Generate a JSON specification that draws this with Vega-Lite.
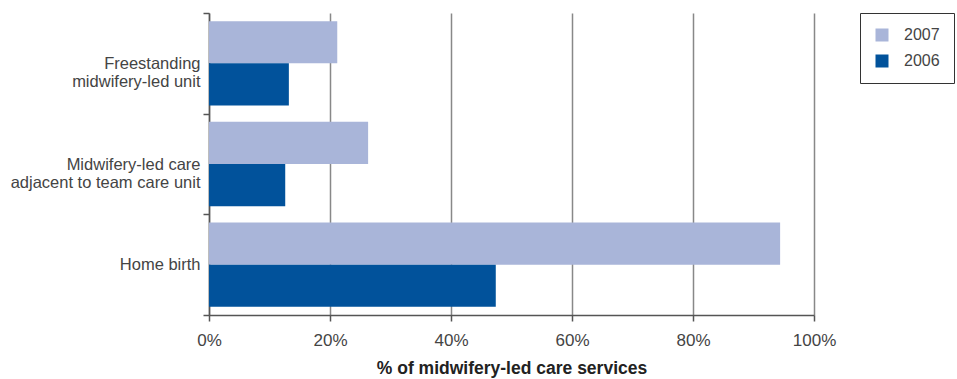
{
  "$schema": "https://vega.github.io/schema/vega-lite/v6.json",
  "width": 605,
  "height": 302,
  "autosize": {"type": "none"},
  "padding": {"left": 209, "top": 13, "right": 143, "bottom": 64},
  "background": "white",
  "config": {
    "view": {"stroke": null},
    "font": "Liberation Sans"
  },
  "data": {
    "values": [
      {"category": "Freestanding|midwifery-led unit", "year": "2007", "value": 21.2},
      {"category": "Freestanding|midwifery-led unit", "year": "2006", "value": 13.2},
      {"category": "Midwifery-led care|adjacent to team care unit", "year": "2007", "value": 26.3},
      {"category": "Midwifery-led care|adjacent to team care unit", "year": "2006", "value": 12.6},
      {"category": "Home birth", "year": "2007", "value": 94.4},
      {"category": "Home birth", "year": "2006", "value": 47.4}
    ]
  },
  "mark": {"type": "bar"},
  "encoding": {
    "y": {
      "field": "category",
      "type": "nominal",
      "sort": ["Freestanding|midwifery-led unit", "Midwifery-led care|adjacent to team care unit", "Home birth"],
      "scale": {"paddingInner": 0, "paddingOuter": 0},
      "axis": {
        "title": null,
        "labelExpr": "split(datum.label, '|')",
        "labelLineHeight": 18,
        "labelFontSize": 16.5,
        "labelColor": "#444",
        "labelPadding": 3,
        "labelLimit": 300,
        "tickBand": "extent",
        "tickSize": 6,
        "tickColor": "#555",
        "tickWidth": 1.5,
        "domainColor": "#555",
        "domainWidth": 1.5,
        "grid": false
      }
    },
    "yOffset": {
      "field": "year",
      "type": "nominal",
      "sort": ["2007", "2006"],
      "scale": {"paddingInner": 0, "paddingOuter": 0.194}
    },
    "x": {
      "field": "value",
      "type": "quantitative",
      "scale": {"domain": [0, 100], "nice": false},
      "axis": {
        "values": [0, 20, 40, 60, 80, 100],
        "labelExpr": "datum.value + '%'",
        "labelFlush": false,
        "labelFontSize": 17,
        "labelColor": "#444",
        "labelPadding": 11,
        "tickSize": 6,
        "tickColor": "#555",
        "tickWidth": 1.5,
        "domainColor": "#555",
        "domainWidth": 1.5,
        "grid": true,
        "gridColor": "#888",
        "gridWidth": 1.5,
        "title": "% of midwifery-led care services",
        "titleFontSize": 17.5,
        "titleFontWeight": "bold",
        "titleColor": "#222",
        "titlePadding": 11
      }
    },
    "color": {
      "field": "year",
      "type": "nominal",
      "scale": {"domain": ["2007", "2006"], "range": ["#a9b5d9", "#01529b"]},
      "legend": {
        "title": null,
        "orient": "none",
        "legendX": 651,
        "legendY": 0,
        "strokeColor": "#333",
        "fillColor": "white",
        "padding": 14,
        "rowPadding": 10,
        "symbolType": "square",
        "symbolSize": 169,
        "symbolStrokeWidth": 0,
        "labelFontSize": 16,
        "labelColor": "#444",
        "labelOffset": 14
      }
    }
  }
}
